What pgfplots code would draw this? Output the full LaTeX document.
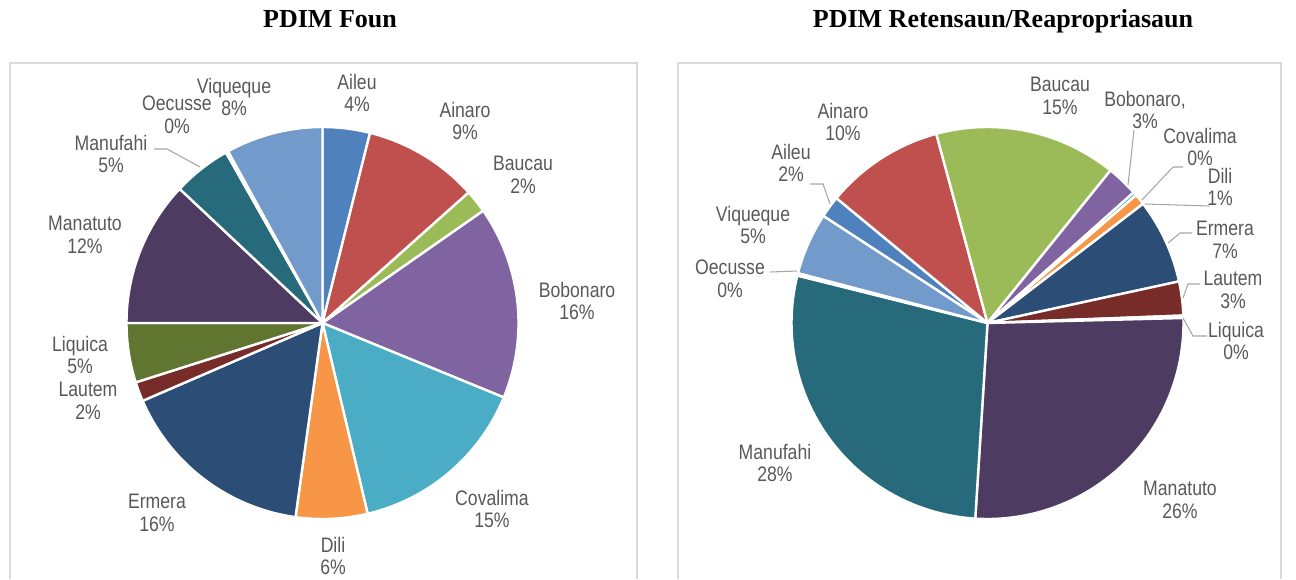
\documentclass[border=0pt]{standalone}
\usepackage{pgfplots}
\usepackage{pgfplotstable}
\pgfplotsset{compat=1.18}
\usepackage{fontspec}
\setmainfont{Liberation Sans}[FakeStretch=0.84]
\newfontfamily\titlefont{Liberation Serif}

\definecolor{cAileu}{HTML}{4F81BD}
\definecolor{cAinaro}{HTML}{C0504D}
\definecolor{cBaucau}{HTML}{9BBB59}
\definecolor{cBobonaro}{HTML}{8064A2}
\definecolor{cCovalima}{HTML}{4BACC6}
\definecolor{cDili}{HTML}{F79646}
\definecolor{cErmera}{HTML}{2C4D75}
\definecolor{cLautem}{HTML}{772C2A}
\definecolor{cLiquica}{HTML}{5F7530}
\definecolor{cManatuto}{HTML}{4D3B62}
\definecolor{cManufahi}{HTML}{276A7C}
\definecolor{cOecusse}{HTML}{B65708}
\definecolor{cViqueque}{HTML}{729ACA}
\definecolor{labelgray}{HTML}{595959}
\definecolor{leadergray}{HTML}{A6A6A6}
\definecolor{framegray}{HTML}{D9D9D9}

% PDIM Foun (percent shares)
\pgfplotstableread{
name value color
Aileu 3.9 cAileu
Ainaro 9.5 cAinaro
Baucau 1.9 cBaucau
Bobonaro 15.9 cBobonaro
Covalima 15.1 cCovalima
Dili 5.9 cDili
Ermera 16.3 cErmera
Lautem 1.6 cLautem
Liquica 4.9 cLiquica
Manatuto 12.0 cManatuto
Manufahi 4.8 cManufahi
Oecusse 0.2 cOecusse
Viqueque 8.0 cViqueque
}\foundata

% PDIM Retensaun/Reapropriasaun (percent shares)
\pgfplotstableread{
name value color
Aileu 1.8 cAileu
Ainaro 9.8 cAinaro
Baucau 15.0 cBaucau
Bobonaro 2.6 cBobonaro
Covalima 0.3 cCovalima
Dili 0.9 cDili
Ermera 7.0 cErmera
Lautem 2.8 cLautem
Liquica 0.2 cLiquica
Manatuto 26.4 cManatuto
Manufahi 27.9 cManufahi
Oecusse 0.2 cOecusse
Viqueque 5.1 cViqueque
}\retdata

% #1 table, #2 cx, #3 cy, #4 radius, #5 start angle (clockwise from top)
\newcommand\drawpie[5]{%
  \pgfplotstablegetrowsof{#1}%
  \pgfmathtruncatemacro\nrows{\pgfplotsretval-1}%
  \pgfmathsetmacro\cum{0}%
  \pgfplotsforeachungrouped \i in {0,...,\nrows}{%
    \pgfplotstablegetelem{\i}{value}\of#1\let\val\pgfplotsretval
    \pgfplotstablegetelem{\i}{color}\of#1\let\col\pgfplotsretval
    \pgfmathsetmacro\aa{#5+3.6*\cum}%
    \pgfmathsetmacro\bb{#5+3.6*(\cum+\val)}%
    \edef\tmp{\noexpand\addplot[fill=\col, draw=white, line width=1.8pt, line join=round,
      domain=\aa:\bb, samples=60]
      ({#2+#4*sin(x)},{#3-#4*cos(x)}) -- (axis cs:#2,#3) -- cycle;}%
    \tmp
    \pgfmathsetmacro\cum{\cum+\val}%
  }%
}

\tikzset{
  lbl/.style={font=\fontsize{15.75}{17}\selectfont, text=labelgray, align=center, inner sep=0pt},
  ttl/.style={font=\titlefont\bfseries\fontsize{19.5}{22}\selectfont, text=black, anchor=base, inner sep=0pt},
}

\begin{document}
\begin{tikzpicture}
\begin{axis}[
  scale only axis, width=972pt, height=434.25pt,
  xmin=0, xmax=1296, ymin=0, ymax=579, y dir=reverse,
  hide axis, clip=false,
]
% panel frames
\draw[framegray, line width=1.5pt] (axis cs:10,579) -- (axis cs:10,63) -- (axis cs:637,63) -- (axis cs:637,579);
\draw[framegray, line width=1.5pt] (axis cs:678,579) -- (axis cs:678,63) -- (axis cs:1281,63) -- (axis cs:1281,579);

\drawpie{\foundata}{322.5}{323}{196}{0}
\drawpie{\retdata}{987.5}{323}{196}{303.1}

% titles
\node[ttl] at (axis cs:330,27) {PDIM Foun};
\node[ttl] at (axis cs:1003,27) {PDIM Retensaun/Reapropriasaun};

% leader lines
\draw[leadergray, line width=0.8pt] (axis cs:154,149) -- (axis cs:167,149) -- (axis cs:200,167);
\draw[leadergray, line width=0.8pt] (axis cs:810,184) -- (axis cs:823,184) -- (axis cs:830,204);
\draw[leadergray, line width=0.8pt] (axis cs:770,272) -- (axis cs:797,271);
\draw[leadergray, line width=0.8pt] (axis cs:1134,130) -- (axis cs:1128,185);
\draw[leadergray, line width=0.8pt] (axis cs:1183,167) -- (axis cs:1173,167) -- (axis cs:1142,200);
\draw[leadergray, line width=0.8pt] (axis cs:1209,206) -- (axis cs:1145,204);
\draw[leadergray, line width=0.8pt] (axis cs:1192,233) -- (axis cs:1180,233) -- (axis cs:1168,243);
\draw[leadergray, line width=0.8pt] (axis cs:1200,284) -- (axis cs:1188,284) -- (axis cs:1183,298);
\draw[leadergray, line width=0.8pt] (axis cs:1183,318) -- (axis cs:1193,336) -- (axis cs:1207,336);

% left labels
\node[lbl] at (axis cs:357,93) {Aileu\\4\%};
\node[lbl] at (axis cs:465,121) {Ainaro\\9\%};
\node[lbl] at (axis cs:523,175) {Baucau\\2\%};
\node[lbl] at (axis cs:577,301) {Bobonaro\\16\%};
\node[lbl] at (axis cs:492,509) {Covalima\\15\%};
\node[lbl] at (axis cs:333,556) {Dili\\6\%};
\node[lbl] at (axis cs:157,513) {Ermera\\16\%};
\node[lbl] at (axis cs:88,401) {Lautem\\2\%};
\node[lbl] at (axis cs:80,355) {Liquica\\5\%};
\node[lbl] at (axis cs:85,235) {Manatuto\\12\%};
\node[lbl] at (axis cs:111,154) {Manufahi\\5\%};
\node[lbl] at (axis cs:177,115) {Oecusse\\0\%};
\node[lbl] at (axis cs:234,97) {Viqueque\\8\%};

% right labels
\node[lbl] at (axis cs:843,122) {Ainaro\\10\%};
\node[lbl] at (axis cs:791,163) {Aileu\\2\%};
\node[lbl] at (axis cs:753,225) {Viqueque\\5\%};
\node[lbl] at (axis cs:730,279) {Oecusse\\0\%};
\node[lbl] at (axis cs:1060,96) {Baucau\\15\%};
\node[lbl] at (axis cs:1145,110) {Bobonaro,\\3\%};
\node[lbl] at (axis cs:1200,147) {Covalima\\0\%};
\node[lbl] at (axis cs:1220,187) {Dili\\1\%};
\node[lbl] at (axis cs:1225,240) {Ermera\\7\%};
\node[lbl] at (axis cs:1233,290) {Lautem\\3\%};
\node[lbl] at (axis cs:1236,341) {Liquica\\0\%};
\node[lbl] at (axis cs:1180,500) {Manatuto\\26\%};
\node[lbl] at (axis cs:775,463) {Manufahi\\28\%};
\end{axis}
\pgfresetboundingbox
\useasboundingbox (current axis.south west) rectangle (current axis.north east);
\end{tikzpicture}
\end{document}
